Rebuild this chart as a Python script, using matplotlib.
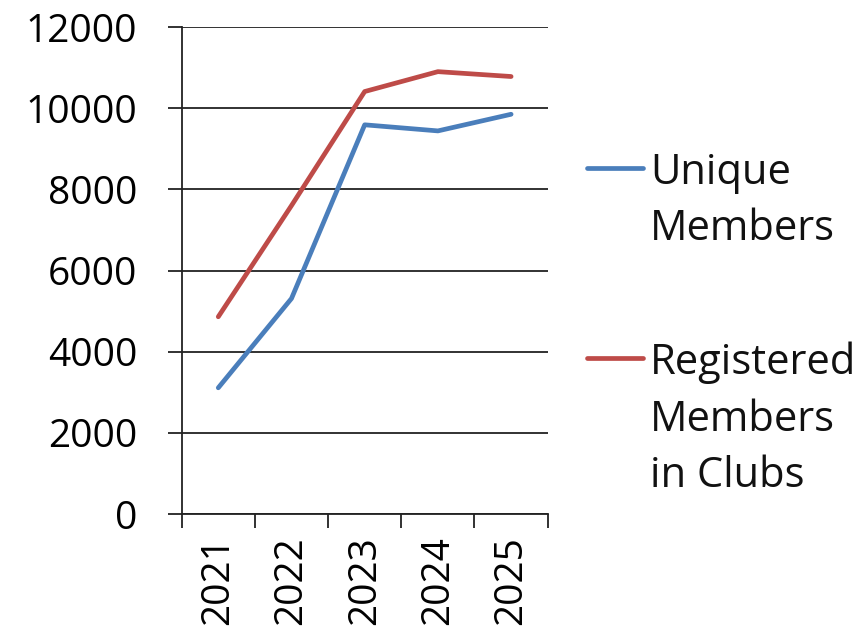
import matplotlib
matplotlib.use("Agg")
from matplotlib import pyplot as plt
from matplotlib.lines import Line2D

plt.rcParams['font.family'] = ['Open Sans', 'DejaVu Sans']

years = ["2021", "2022", "2023", "2024", "2025"]
unique_members = [3110, 5310, 9590, 9440, 9850]
registered_members = [4860, 7600, 10410, 10900, 10780]

blue = '#4A7EBB'
red = '#BE4B48'

fig = plt.figure(figsize=(8.59, 6.43), dpi=100)
ax = fig.add_axes([0.2115, 0.2006, 0.4261, 0.7574])

index = range(len(years))
ax.plot(index, unique_members, '-', color=blue, linewidth=3.4, solid_capstyle='round')
ax.plot(index, registered_members, '-', color=red, linewidth=3.4, solid_capstyle='round')

ax.set_ylim(0, 12000)
ax.set_xlim(-0.5, len(years) - 0.5)
ax.set_yticks(range(0, 12001, 2000))
ax.set_yticklabels([str(v) for v in range(0, 12001, 2000)])

# category boundaries carry the tick marks, labels sit in the middle
ax.set_xticks([i - 0.5 for i in range(len(years) + 1)])
ax.set_xticklabels([])
ax.set_xticks(list(index), minor=True)
ax.set_xticklabels(years, minor=True, rotation=90)
ax.tick_params(axis='x', which='minor', length=0, pad=16, labelsize=28)
ax.tick_params(axis='x', which='major', length=10, width=1.3, direction='out', color='#222222')
ax.tick_params(axis='y', length=10, width=1.3, direction='out', color='#222222', pad=22, labelsize=28)

ax.yaxis.grid(True, color='#222222', linewidth=1.3)
ax.set_axisbelow(True)
for side in ['top', 'right']:
    ax.spines[side].set_visible(False)
for side in ['left', 'bottom']:
    ax.spines[side].set_color('#222222')
    ax.spines[side].set_linewidth(1.3)

# legend drawn by hand so the key sits on the first text line
legend_items = [("Unique\nMembers", blue, 168), ("Registered\nMembers\nin Clubs", red, 358)]
W, H = 859.0, 643.0
for label, col, ypix in legend_items:
    fig.add_artist(Line2D([587 / W, 643 / W], [1 - ypix / H, 1 - ypix / H],
                          color=col, linewidth=3.4, solid_capstyle='round'))
    fig.text(650 / W, 1 - (ypix - 16) / H, label, fontsize=30, va='top', ha='left',
             linespacing=1.44, color='#111111')

plt.savefig("out.png", dpi=100)
plt.close()
